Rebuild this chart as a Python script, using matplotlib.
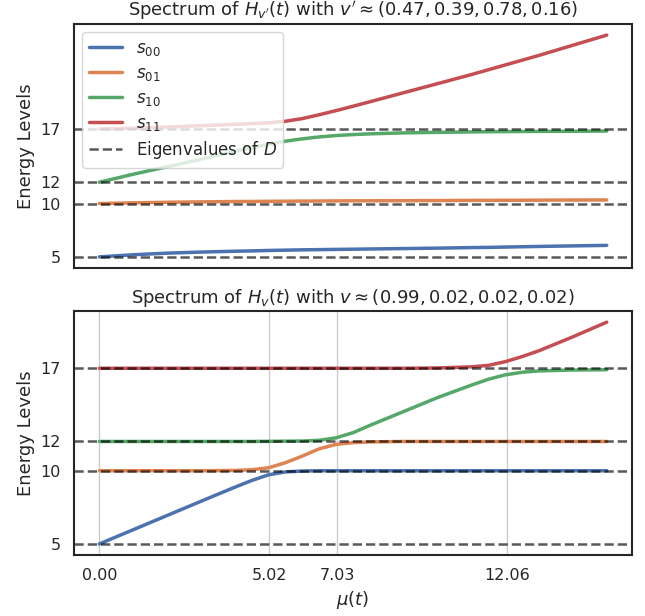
import numpy as np
import matplotlib
matplotlib.use("Agg")
import matplotlib.pyplot as plt
import seaborn as sns

sns.set_theme(style="white")

# sample positions along mu(t)
mu = [0, 1, 2, 3, 4, 4.5, 5, 5.5, 6, 6.5, 7, 7.5, 8, 9, 10, 11, 11.5, 12, 12.5, 13, 14, 15]

# top panel: H_v'(t)
top_s00 = [5.0, 5.2, 5.35, 5.45, 5.53, 5.56, 5.6, 5.63, 5.66, 5.68, 5.7, 5.72, 5.74,
           5.78, 5.82, 5.87, 5.89, 5.92, 5.95, 5.98, 6.03, 6.08]
top_s01 = [10.0, 10.07, 10.12, 10.16, 10.19, 10.2, 10.21, 10.22, 10.23, 10.24, 10.25, 10.26,
           10.26, 10.27, 10.28, 10.3, 10.3, 10.31, 10.31, 10.32, 10.33, 10.34]
top_s10 = [12.0, 12.75, 13.45, 14.15, 14.9, 15.25, 15.55, 15.85, 16.07, 16.25, 16.38, 16.47,
           16.54, 16.63, 16.68, 16.72, 16.74, 16.75, 16.76, 16.77, 16.78, 16.8]
top_s11 = [17.0, 17.07, 17.18, 17.3, 17.43, 17.5, 17.57, 17.72, 17.97, 18.33, 18.72, 19.13,
           19.55, 20.4, 21.25, 22.1, 22.55, 23.0, 23.45, 23.9, 24.85, 25.8]

# bottom panel: H_v(t)
bot_s00 = [5.0, 5.97, 6.94, 7.91, 8.87, 9.33, 9.72, 9.92, 9.98, 10.0, 10.0, 10.0, 10.0,
           10.0, 10.0, 10.0, 10.0, 10.0, 10.0, 10.0, 10.0, 10.0]
bot_s01 = [10.0, 10.0, 10.0, 10.0, 10.02, 10.07, 10.2, 10.55, 11.0, 11.5, 11.8, 11.92,
           11.97, 12.0, 12.0, 12.0, 12.0, 12.0, 12.0, 12.0, 12.0, 12.0]
bot_s10 = [12.0, 12.0, 12.0, 12.0, 12.0, 12.0, 12.01, 12.02, 12.03, 12.08, 12.25, 12.6,
           13.1, 14.05, 15.0, 15.85, 16.25, 16.55, 16.73, 16.82, 16.88, 16.9]
bot_s11 = [17.0, 17.0, 17.0, 17.0, 17.0, 17.0, 17.0, 17.0, 17.0, 17.0, 17.0, 17.0,
           17.0, 17.0, 17.02, 17.1, 17.2, 17.45, 17.8, 18.2, 19.15, 20.15]

eigenvalues = [5, 10, 12, 17]
crossings = [0.00, 5.02, 7.03, 12.06]
labels = [r"$s_{00}$", r"$s_{01}$", r"$s_{10}$", r"$s_{11}$"]
colors = sns.color_palette("deep")[:4]

fig = plt.figure(figsize=(6.45, 6.16), dpi=100)
ax1 = fig.add_axes([0.1147, 0.565, 0.8653, 0.396])
ax2 = fig.add_axes([0.1147, 0.099, 0.8653, 0.396], sharex=ax1)

panels = [
    (ax1, [top_s00, top_s01, top_s10, top_s11],
     r"Spectrum of $H_{v'}(t)$ with $v' \approx (0.47, 0.39, 0.78, 0.16)$"),
    (ax2, [bot_s00, bot_s01, bot_s10, bot_s11],
     r"Spectrum of $H_v(t)$ with $v \approx (0.99, 0.02, 0.02, 0.02)$"),
]

for ax, series, title in panels:
    for ys, lab, c in zip(series, labels, colors):
        ax.plot(mu, ys, color=c, lw=2.5, label=lab)
    for i, e in enumerate(eigenvalues):
        ax.axhline(e, color="black", ls="--", lw=1.8, alpha=0.65,
                   label="Eigenvalues of $D$" if i == 0 else None)
    ax.set_yticks(eigenvalues)
    ax.tick_params(labelsize=11.5)
    ax.set_ylabel("Energy Levels", fontsize=13)
    ax.set_title(title, fontsize=13)
    for spine in ax.spines.values():
        spine.set_linewidth(1.5)
        spine.set_color("#262626")

ax1.legend(loc="upper left", fontsize=12, labelspacing=0.36, handlelength=2.0)
ax2.set_xticks(crossings)
ax2.set_xticklabels([f"{c:.2f}" for c in crossings])
ax2.grid(axis="x", color="#cccccc", lw=1)
ax2.set_axisbelow(True)
plt.setp(ax1.get_xticklabels(), visible=False)
ax2.set_xlabel(r"$\mu(t)$", fontsize=13)

fig.savefig("out.png", dpi=100)
